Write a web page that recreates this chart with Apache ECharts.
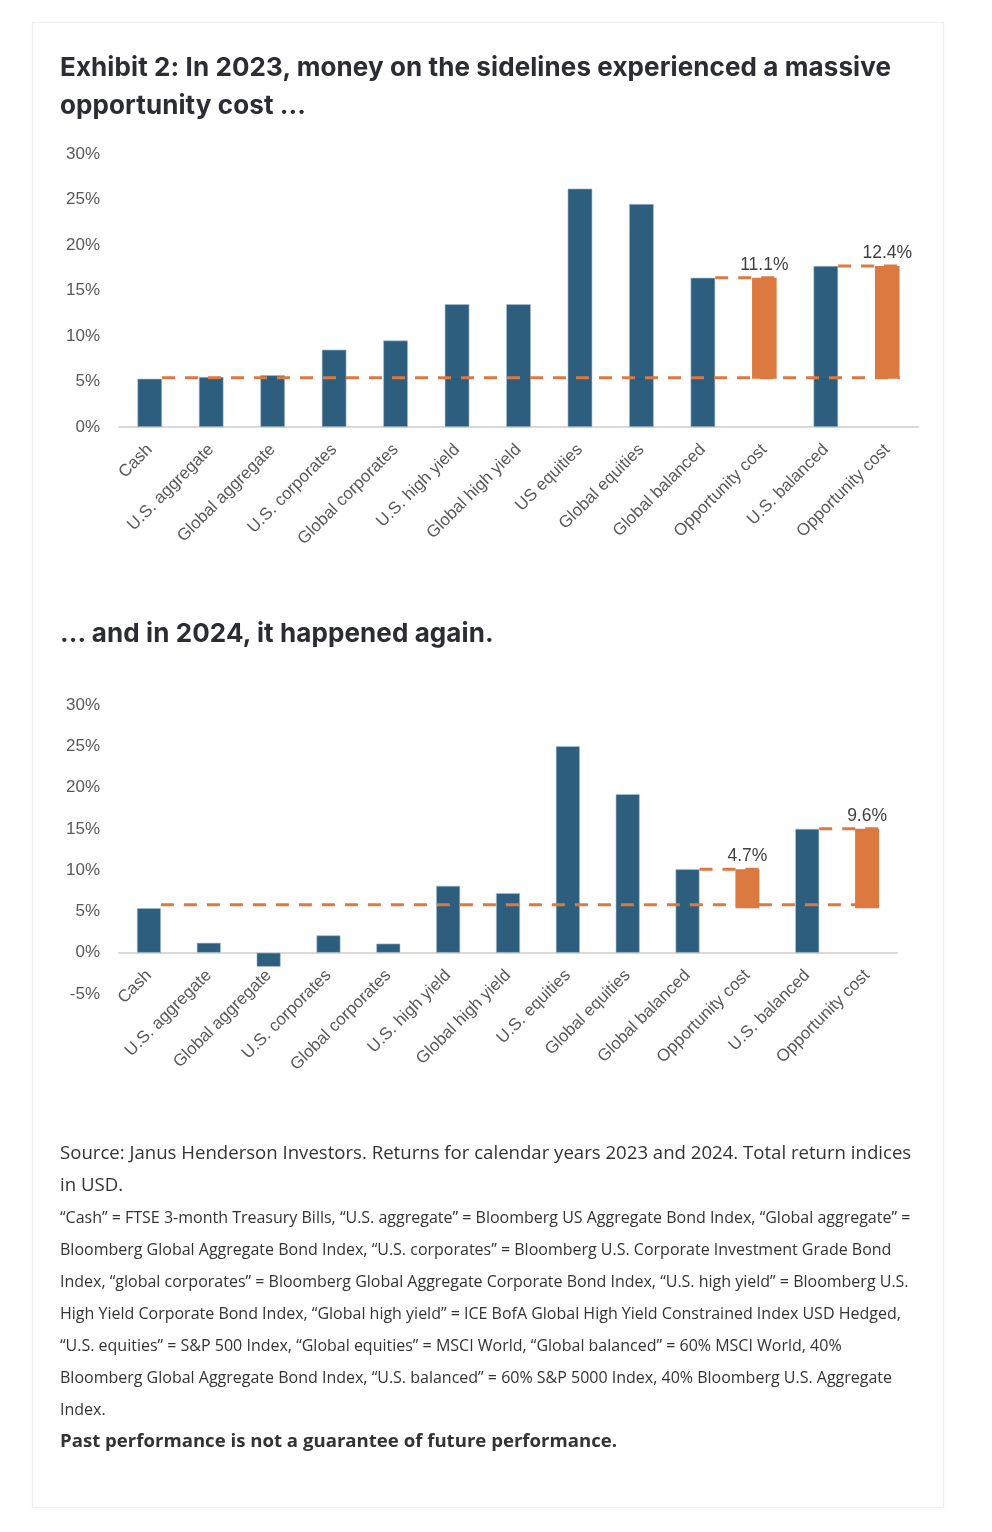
<!DOCTYPE html>
<html>
<head>
<meta charset="utf-8">
<script src="https://cdn.jsdelivr.net/npm/echarts@6/dist/echarts.min.js"></script>
<style>
  html, body { margin: 0; padding: 0; background: #fff; }
  body { width: 992px; height: 1532px; position: relative; overflow: hidden; }
  .card { position: absolute; left: 32px; top: 22px; width: 910px; height: 1484px;
          border: 1px solid #eef0f3; box-shadow: 0 0 3px rgba(0,0,0,0.04); background: #fff; }
  #chart { position: absolute; left: 0; top: 0; width: 992px; height: 1532px; }
  .title { position: absolute; left: 60px; font-family: Inter, "Noto Sans", sans-serif; font-weight: 700;
           font-size: 26px; line-height: 38px; color: #2b2d33; white-space: nowrap; letter-spacing: 0.1px; }
  .note { position: absolute; left: 60px; font-family: "Open Sans", sans-serif; color: #333;
          white-space: nowrap; line-height: 32px; }
</style>
</head>
<body>
<div class="card"></div>
<div id="chart"></div>
<div class="title" style="top:48px">Exhibit 2: In 2023, money on the sidelines experienced a massive<br>opportunity cost ...</div>
<div class="title" style="top:614px">... and in 2024, it happened again.</div>
<div class="note" style="top:1136px;font-size:18.6px">Source: Janus Henderson Investors. Returns for calendar years 2023 and 2024. Total return indices<br>in USD.</div>
<div class="note" style="top:1201px;font-size:16px">“Cash” = FTSE 3-month Treasury Bills, “U.S. aggregate” = Bloomberg US Aggregate Bond Index, “Global aggregate” =<br>Bloomberg Global Aggregate Bond Index, “U.S. corporates” = Bloomberg U.S. Corporate Investment Grade Bond<br>Index, “global corporates” = Bloomberg Global Aggregate Corporate Bond Index, “U.S. high yield” = Bloomberg U.S.<br>High Yield Corporate Bond Index, “Global high yield” = ICE BofA Global High Yield Constrained Index USD Hedged,<br>“U.S. equities” = S&amp;P 500 Index, “Global equities” = MSCI World, “Global balanced” = 60% MSCI World, 40%<br>Bloomberg Global Aggregate Bond Index, “U.S. balanced” = 60% S&amp;P 5000 Index, 40% Bloomberg U.S. Aggregate<br>Index.</div>
<div class="note" style="top:1424px;font-size:18.6px;font-weight:700">Past performance is not a guarantee of future performance.</div>
<script>
// categories
var cats2023 = ['Cash', 'U.S. aggregate', 'Global aggregate', 'U.S. corporates', 'Global corporates', 'U.S. high yield',
  'Global high yield', 'US equities', 'Global equities', 'Global balanced', 'Opportunity cost', 'U.S. balanced', 'Opportunity cost'];
var cats2024 = ['Cash', 'U.S. aggregate', 'Global aggregate', 'U.S. corporates', 'Global corporates', 'U.S. high yield',
  'Global high yield', 'U.S. equities', 'Global equities', 'Global balanced', 'Opportunity cost', 'U.S. balanced', 'Opportunity cost'];

// returns (%), null where the orange bar sits
var returns2023 = [5.3, 5.5, 5.7, 8.5, 9.5, 13.5, 13.5, 26.2, 24.5, 16.4, null, 17.7, null];
var returns2024 = [5.4, 1.2, -1.7, 2.1, 1.1, 8.1, 7.2, 25.0, 19.2, 10.1, null, 15.0, null];

// opportunity cost bars = invisible base (cash) + orange gap
var oppBase2023 = [null, null, null, null, null, null, null, null, null, null, 5.3, null, 5.3];
var oppCost2023 = [null, null, null, null, null, null, null, null, null, null, 11.1, null, 12.4];
var oppBase2024 = [null, null, null, null, null, null, null, null, null, null, 5.4, null, 5.4];
var oppCost2024 = [null, null, null, null, null, null, null, null, null, null, 4.7, null, 9.6];

// dashed lines: [from category, to category, level]
var cashLine2023 = [[0, 12, 5.4]];
var cashLine2024 = [[0, 12, 5.8]];
var linkLines2023 = [[9, 10, 16.4], [11, 12, 17.7]];
var linkLines2024 = [[9, 10, 10.1], [11, 12, 15.0]];

// y ticks
var yMin2023 = 0, yMax2023 = 30;
var yMin2024 = -5, yMax2024 = 30;
var yStep = 5;

var blue = '#2d5e7e';
var orange = '#db7940';
var BAR_W = 0.4;
var grids = [
  { left: 119, top: 154, width: 799, height: 273 },
  { left: 119, top: 705, width: 778, height: 289 }
];

function dashLine(params, api) {
  var y = api.value(2);
  var p0 = api.coord([api.value(0), y]);
  var p1 = api.coord([api.value(1), y]);
  var hb = api.size([1, 0])[0] * BAR_W / 2;
  return {
    type: 'line',
    shape: { x1: p0[0] + hb, y1: p0[1], x2: p1[0] + hb, y2: p1[1] },
    style: { stroke: orange, lineWidth: 3, lineDash: [13, 10] }
  };
}

// category axis sits on the 0% line (labels move with it)
function xAxis(cats, idx, yMin, yMax) {
  var zeroShift = yMin < 0 ? -grids[idx].height * (0 - yMin) / (yMax - yMin) : 0;
  return {
    type: 'category', gridIndex: idx, data: cats, offset: zeroShift,
    axisLine: { onZero: false, lineStyle: { color: '#d9d9d9', width: 2 } },
    axisTick: { show: false },
    axisLabel: { rotate: 45, interval: 0, margin: 20, color: '#595959', fontSize: 17, fontFamily: 'Liberation Sans, Arial' }
  };
}
function yAxis(min, max, idx) {
  return {
    type: 'value', gridIndex: idx, min: min, max: max, interval: yStep,
    splitLine: { show: false },
    axisLabel: { color: '#595959', fontSize: 17, margin: 19, fontFamily: 'Liberation Sans, Arial',
      formatter: function (v) { return v + '%'; } }
  };
}
function series(idx, ret, base, opp, cashLine, links) {
  var lbl = { show: true, position: 'top', distance: 4, color: '#404040', fontSize: 17.5, fontFamily: 'Liberation Sans, Arial',
    formatter: function (p) { return p.value.toFixed(1) + '%'; } };
  return [
    { type: 'bar', xAxisIndex: idx, yAxisIndex: idx, stack: 's' + idx, barWidth: '40%', data: ret,
      itemStyle: { color: blue, borderColor: '#a7c0d3', borderWidth: 0.6 } },
    { type: 'bar', xAxisIndex: idx, yAxisIndex: idx, stack: 's' + idx, barWidth: '40%', data: base,
      itemStyle: { color: 'rgba(0,0,0,0)' }, silent: true },
    { type: 'bar', xAxisIndex: idx, yAxisIndex: idx, stack: 's' + idx, barWidth: '40%', data: opp,
      itemStyle: { color: orange }, label: lbl },
    { type: 'custom', xAxisIndex: idx, yAxisIndex: idx, z: 5, renderItem: dashLine,
      encode: { x: [0, 1], y: 2 }, data: cashLine.concat(links) }
  ];
}

var chart = echarts.init(document.getElementById('chart'), null, { renderer: 'canvas' });
chart.setOption({
  animation: false,
  grid: grids,
  xAxis: [xAxis(cats2023, 0, yMin2023, yMax2023), xAxis(cats2024, 1, yMin2024, yMax2024)],
  yAxis: [yAxis(yMin2023, yMax2023, 0), yAxis(yMin2024, yMax2024, 1)],
  series: series(0, returns2023, oppBase2023, oppCost2023, cashLine2023, linkLines2023)
    .concat(series(1, returns2024, oppBase2024, oppCost2024, cashLine2024, linkLines2024))
});
</script>
</body>
</html>
